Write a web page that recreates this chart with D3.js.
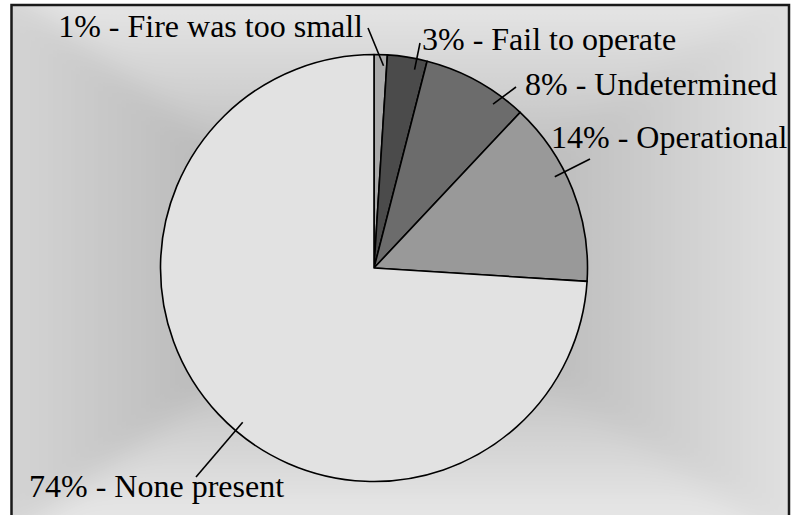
<html>
<head>
    <script src="https://cdnjs.cloudflare.com/ajax/libs/d3/7.8.5/d3.min.js"></script>
    <style>
        body { margin: 0; background: #fff; }
        text.label { font-family: 'Liberation Serif', 'Times New Roman', serif; }
    </style>
</head>
<body>
    <script>
        // chart data
        const categories = ['Fire was too small', 'Fail to operate', 'Undetermined', 'Operational', 'None present'];
        const percents = [1, 3, 8, 14, 74];
        const sliceColors = ['#a9a9a9', '#4b4b4b', '#6c6c6c', '#999999', '#e2e2e2'];

        // label layout (text anchor point + where its leader line ends)
        const labelX = [363, 422, 525, 551, 29];
        const labelY = [37, 50, 95, 148, 497];
        const labelAnchor = ['end', 'start', 'start', 'start', 'start'];
        const leaderEnd = [[368, 28], [420, 43], [516, 87], [590, 159], [196, 477]];

        const width = 793, height = 515;
        const frame = { left: 11.5, top: 5, right: 789, bottom: 520 };
        const cx = 374, cy = 268, radius = 213.5;

        const svg = d3.select('body').append('svg')
            .attr('width', width)
            .attr('height', height);

        const defs = svg.append('defs');
        defs.append('clipPath').attr('id', 'frameClip')
            .append('rect')
            .attr('x', frame.left).attr('y', frame.top)
            .attr('width', frame.right - frame.left)
            .attr('height', frame.bottom - frame.top);
        defs.append('filter').attr('id', 'soft')
            .attr('x', -0.1).attr('y', -0.1).attr('width', 1.2).attr('height', 1.2)
            .append('feGaussianBlur').attr('stdDeviation', 14);

        // rectangular "from centre" gradient built from 4 triangles, softened a bit
        const gc = [380, 268];
        const o = 60; // triangles reach past the frame so the blur doesn't fade at the edges
        const L = frame.left - o, T = frame.top - o, R = frame.right + o, B = frame.bottom + o;
        const sides = [
            { id: 'gTop', pts: [[L, T], [R, T]], x1: 0, y1: frame.top, x2: 0, y2: gc[1], edge: '#e5e5e5' },
            { id: 'gBottom', pts: [[R, B], [L, B]], x1: 0, y1: frame.bottom - 8, x2: 0, y2: gc[1], edge: '#e6e6e6' },
            { id: 'gLeft', pts: [[L, B], [L, T]], x1: frame.left, y1: 0, x2: gc[0], y2: 0, edge: '#d4d4d4' },
            { id: 'gRight', pts: [[R, T], [R, B]], x1: frame.right, y1: 0, x2: gc[0], y2: 0, edge: '#e0e0e0' }
        ];
        const bg = svg.append('g').attr('clip-path', 'url(#frameClip)')
            .append('g').attr('filter', 'url(#soft)');
        sides.forEach(s => {
            const lg = defs.append('linearGradient')
                .attr('id', s.id)
                .attr('gradientUnits', 'userSpaceOnUse')
                .attr('x1', s.x1).attr('y1', s.y1)
                .attr('x2', s.x2).attr('y2', s.y2);
            lg.append('stop').attr('offset', 0).attr('stop-color', s.edge);
            lg.append('stop').attr('offset', 1).attr('stop-color', '#a4a4a4');
            bg.append('polygon')
                .attr('points', [s.pts[0], s.pts[1], gc].map(p => p.join(',')).join(' '))
                .attr('fill', `url(#${s.id})`)
                .attr('stroke', `url(#${s.id})`)
                .attr('stroke-width', 0.6);
        });

        svg.append('rect')
            .attr('x', frame.left)
            .attr('y', frame.top)
            .attr('width', frame.right - frame.left)
            .attr('height', frame.bottom - frame.top)
            .attr('fill', 'none')
            .attr('stroke', '#1a1a1a')
            .attr('stroke-width', 2.5);

        const pie = d3.pie().sort(null).value(d => d);
        const arcs = pie(percents);
        const arc = d3.arc().innerRadius(0).outerRadius(radius);

        const g = svg.append('g').attr('transform', `translate(${cx},${cy})`);

        g.selectAll('path.slice')
            .data(arcs)
            .enter().append('path')
            .attr('class', 'slice')
            .attr('d', arc)
            .attr('fill', (d, i) => sliceColors[i])
            .attr('stroke', '#000')
            .attr('stroke-width', 1.6)
            .attr('stroke-linejoin', 'round');

        // leader lines: start inside the slice, pointing toward the label
        g.selectAll('line.leader')
            .data(arcs)
            .enter().append('line')
            .attr('class', 'leader')
            .each(function (d, i) {
                const ex = leaderEnd[i][0] - cx, ey = leaderEnd[i][1] - cy;
                let a = Math.atan2(ex, -ey);
                if (a < 0) a += 2 * Math.PI;
                const m = (d.endAngle - d.startAngle) * 0.25;
                a = Math.max(d.startAngle + m, Math.min(d.endAngle - m, a));
                const r = radius - 11;
                d3.select(this)
                    .attr('x1', r * Math.sin(a))
                    .attr('y1', -r * Math.cos(a))
                    .attr('x2', ex)
                    .attr('y2', ey);
            })
            .attr('stroke', '#000')
            .attr('stroke-width', 1.6);

        svg.selectAll('text.label')
            .data(arcs)
            .enter().append('text')
            .attr('class', 'label')
            .attr('x', (d, i) => labelX[i])
            .attr('y', (d, i) => labelY[i])
            .attr('text-anchor', (d, i) => labelAnchor[i])
            .attr('font-size', 32)
            .attr('fill', '#000')
            .text((d, i) => `${percents[i]}% - ${categories[i]}`);
    </script>
</body>
</html>
